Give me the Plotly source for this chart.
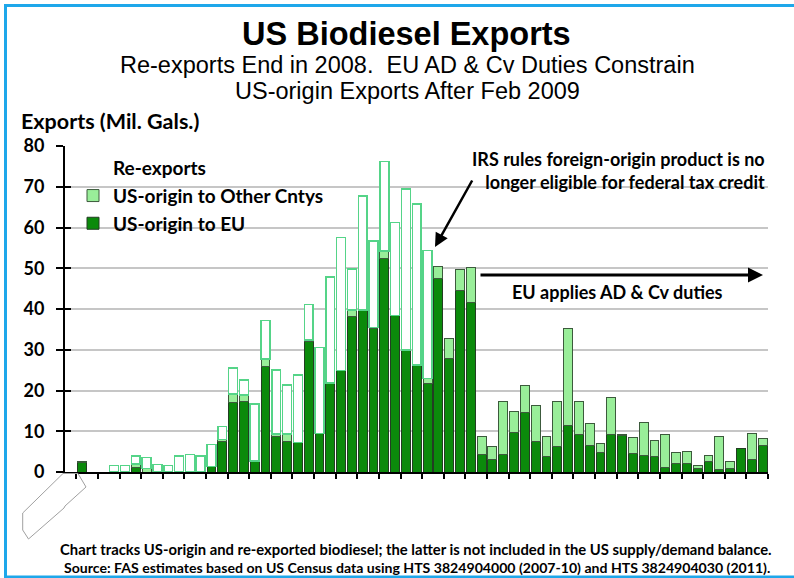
import pandas as pd
import plotly.graph_objects as go

# ---------------- data ----------------
months = list(pd.date_range("2006-02-01", periods=64, freq="MS").strftime("%b %Y"))

us_to_eu = [2.4, 0, 0, 0, 0, 1.0, 0, 0, 0, 0, 0, 0, 1.4, 7.4, 17.0, 17.2,
            2.5, 25.9, 8.6, 7.4, 7.2, 32.0, 9.4, 21.9, 24.9, 38.2, 39.8, 35.1, 52.5, 38.4, 30.0, 26.3,
            21.6, 47.6, 27.8, 44.6, 41.7, 4.4, 3.1, 4.4, 9.6, 14.5, 7.6, 3.9, 6.2, 11.5, 9.3, 6.4,
            4.9, 9.1, 9.0, 4.5, 4.1, 3.7, 1.2, 2.2, 2.2, 0.8, 2.5, 0.6, 0.8, 5.7, 3.0, 6.6]

us_to_other = [0.2, 0, 0, 0, 0, 1.0, 0.8, 0, 0, 0, 0, 0, 0, 0.6, 2.1, 1.7,
               0.2, 1.8, 0.7, 1.9, 0, 0.4, 0.1, 0, 0, 1.6, 0, 0.4, 1.7, 0, 0, 0,
               1.4, 2.8, 5.0, 5.1, 8.6, 4.2, 3.1, 13.0, 5.3, 6.7, 8.7, 4.7, 11.2, 23.6, 8.1, 5.5,
               2.1, 9.2, 0.2, 3.9, 8.0, 4.1, 8.0, 2.6, 2.9, 0.8, 1.6, 8.0, 1.8, 0, 6.4, 1.6]

re_exports = [0, 0, 0, 1.6, 1.6, 1.9, 2.7, 1.9, 1.6, 3.9, 4.3, 3.9, 5.4, 3.2, 6.4, 3.7,
              14.0, 9.5, 15.7, 12.0, 16.6, 8.7, 21.1, 26.0, 32.7, 10.0, 27.9, 21.2, 22.0, 22.8, 39.5, 39.5,
              31.4, 0, 0, 0, 0, 0, 0, 0, 0, 0, 0, 0, 0, 0, 0, 0,
              0, 0, 0, 0, 0, 0, 0, 0, 0, 0, 0, 0, 0, 0, 0, 0]

y_ticks = [0, 10, 20, 30, 40, 50, 60, 70, 80]


def nz(vals):
    return [v if v else None for v in vals]


# ---------------- geometry helpers (pixel -> paper) ----------------
W, H = 794, 578
L, R, T, B = 65, 26, 146, 106
PW, PH = W - L - R, H - T - B


def px(x):
    return (x - L) / PW


def py(y):
    return (H - B - y) / PH


FONT_C = "Lato"
FONT_A = "Liberation Sans"

fig = go.Figure()

fig.add_trace(go.Bar(
    x=months, y=nz(us_to_eu), name="US-origin to EU",
    marker=dict(color="#0b8a0b", line=dict(color="#233d23", width=1)),
    width=0.82,
))
fig.add_trace(go.Bar(
    x=months, y=nz(us_to_other), name="US-origin to Other Cntys",
    marker=dict(color="#99ee99", line=dict(color="#3c5a3c", width=1)),
    width=0.82,
))
# legend-only entry (reference shows no visible symbol for re-exports)
fig.add_trace(go.Bar(
    x=[months[0]], y=[None], name="Re-exports",
    marker=dict(color="white", line=dict(color="white", width=0)),
))
fig.add_trace(go.Bar(
    x=months, y=nz(re_exports), name="Re-exports", showlegend=False,
    marker=dict(color="white", line=dict(color="#55d488", width=1.5)),
    width=0.82,
))

# invisible helper for cross ticks on y axis
fig.add_trace(go.Scatter(x=[None], y=[None], yaxis="y2", showlegend=False, hoverinfo="skip"))

B_C = dict(family=FONT_C, color="black", weight="bold")

annotations = [
    dict(text="US Biodiesel Exports", x=px(406), y=py(34),
         font=dict(family=FONT_A, size=32.5, color="black", weight="bold")),
    dict(text="Re-exports End in 2008.  EU AD &amp; Cv Duties Constrain", x=px(407), y=py(65),
         font=dict(family=FONT_A, size=23.5, color="black")),
    dict(text="US-origin Exports After Feb 2009", x=px(407), y=py(91),
         font=dict(family=FONT_A, size=23.5, color="black")),
    dict(text="Exports (Mil. Gals.)", x=px(19), y=py(121), xanchor="left",
         font=dict(B_C, size=21.5)),
    dict(text="IRS rules foreign-origin product is no<br>longer eligible for federal tax credit",
         x=px(767), y=py(170), xanchor="right", align="right",
         font=dict(B_C, size=18)),
    dict(text="EU applies AD &amp; Cv duties", x=px(617), y=py(292),
         font=dict(B_C, size=18)),
    dict(text="Chart tracks US-origin and re-exported biodiesel; the latter is not included in the US supply/demand balance.",
         x=px(416), y=py(549), font=dict(B_C, size=14.8)),
    dict(text="Source: FAS estimates based on US Census data using HTS 3824904000 (2007-10) and HTS 3824904030 (2011).",
         x=px(417), y=py(567), font=dict(B_C, size=14.1)),
]
for a in annotations:
    a.setdefault("xanchor", "center")
    a.update(xref="paper", yref="paper", yanchor="middle", showarrow=False)

# arrows
annotations.append(dict(x=px(435), y=py(247), xref="paper", yref="paper", ax=38, ay=-68,
                        axref="pixel", ayref="pixel", showarrow=True, arrowhead=2, arrowsize=1.1,
                        arrowwidth=2.5, arrowcolor="black", text=""))
annotations.append(dict(x=px(763), y=py(275), xref="paper", yref="paper", ax=-284, ay=0,
                        axref="pixel", ayref="pixel", showarrow=True, arrowhead=2, arrowsize=1.0,
                        arrowwidth=3, arrowcolor="black", text=""))

shapes = [
    # frame
    dict(type="rect", xref="paper", yref="paper", x0=px(5.5), x1=px(830), y0=py(5.5), y1=py(577),
         line=dict(color="#1ea7ea", width=3), layer="above"),
    # rotated empty label box at bottom-left
    dict(type="path", xref="paper", yref="paper",
         path="M {} {} L {} {} L {} {} L {} {} L {} {} L {} {} L {} {} L {} {} Z".format(
             px(63), py(473.5), px(78), py(473.5), px(86), py(487), px(65), py(506),
             px(64), py(508), px(28.5), py(539), px(22.7), py(530), px(22.7), py(513)),
         line=dict(color="#a0a0a0", width=1)),
]

fig.update_layout(
    width=W, height=H,
    margin=dict(l=L, r=R, t=T, b=B, pad=0),
    paper_bgcolor="white", plot_bgcolor="white",
    barmode="stack", bargap=0.18,
    showlegend=True,
    legend=dict(x=px(73), y=py(149), xanchor="left", yanchor="top", traceorder="reversed",
                bgcolor="rgba(0,0,0,0)", font=dict(B_C, size=19),
                itemwidth=30, tracegroupgap=0),
    xaxis=dict(type="category", range=[-1.55, 63.5], showticklabels=False, showgrid=False,
               ticks="outside", tickson="boundaries", ticklen=5, tickwidth=1.5, tickcolor="black",
               showline=True, linecolor="black", linewidth=2, zeroline=False, fixedrange=True),
    yaxis=dict(range=[0, 80], tickvals=y_ticks, ticks="outside", ticklen=7, tickwidth=1.5,
               tickcolor="black", showline=True, linecolor="black", linewidth=2,
               showgrid=True, gridcolor="#c6c6c6", gridwidth=1.5, zeroline=False,
               tickfont=dict(B_C, size=18), ticklabelstandoff=8),
    yaxis2=dict(range=[0, 80], overlaying="y", side="left", tickvals=y_ticks, ticks="inside",
                ticklen=6, tickwidth=1.5, tickcolor="black", showticklabels=False,
                showgrid=False, zeroline=False, showline=False),
    annotations=annotations,
    shapes=shapes,
)

fig.write_html("out.html")
